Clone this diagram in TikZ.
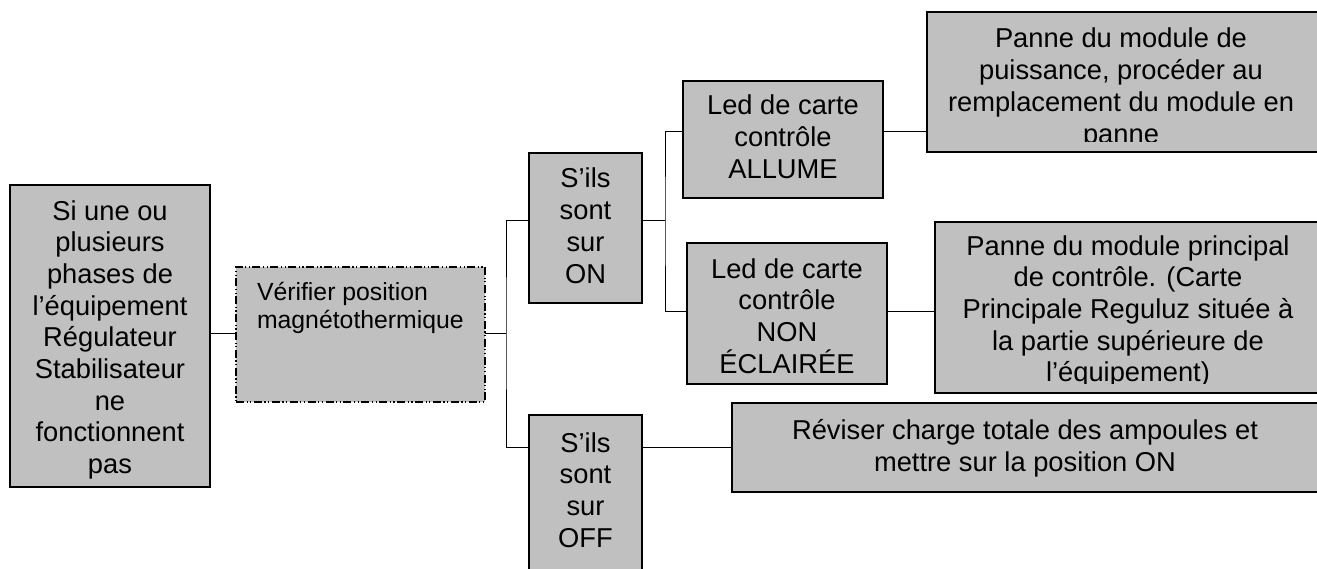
\documentclass[tikz,border=0pt]{standalone}
\usepackage{fontspec}
\setmainfont{Liberation Sans}
\definecolor{boxgray}{RGB}{192,192,192}
\newcommand\mystrutA{\rule{0pt}{20.5pt}}
\newcommand\mystrutB{\rule{0pt}{18.6pt}}
\begin{document}
\begin{tikzpicture}[x=1pt,y=-1pt,
  box/.style={draw, line width=1.5pt, fill=boxgray, inner sep=0pt, outer sep=0pt, anchor=north west},
  dbox/.style={box, line width=1.2pt, dash pattern=on 8pt off 2.5pt on 1.2pt off 2.5pt on 1.2pt off 2.5pt},
  txt/.style={inner sep=0pt, outer sep=0pt, align=center, anchor=north, font=\fontsize{27.3}{31.7}\selectfont},
  ltxt/.style={inner sep=0pt, outer sep=0pt, align=left, anchor=north west, font=\fontsize{24.8}{28}\selectfont},
  conn/.style={line width=1pt}]
\useasboundingbox (0,0) rectangle (1317,569);
\clip (0,0) rectangle (1317,569);

% boxes
\node[box, minimum width=200pt, minimum height=302pt] (A) at (10,185) {};
\node[dbox, minimum width=249pt, minimum height=135pt] (B) at (236,267) {};
\node[box, minimum width=113pt, minimum height=150pt] (ON) at (529,153) {};
\node[box, minimum width=113pt, minimum height=200pt] (OFF) at (529,415) {};
\node[box, minimum width=200pt, minimum height=117pt] (AL) at (683,81) {};
\node[box, minimum width=200pt, minimum height=141pt] (NON) at (687,243) {};
\node[box, minimum width=400pt, minimum height=140pt] (PU) at (927,12) {};
\node[box, minimum width=400pt, minimum height=171pt] (PR) at (935,222) {};
\node[box, minimum width=600pt, minimum height=89pt] (RV) at (732,403) {};

% texts
\node[txt] (tA) at (110,199.5) {\mystrutA Si une ou\\plusieurs\\phases de\\l’équipement\\Régulateur\\Stabilisateur\\ne\\fonctionnent\\pas};
\node[ltxt] (tB) at (257,281.4) {\mystrutB Vérifier position\\magnétothermique};
\node[txt] (tON) at (585.5,167.5) {\mystrutA S’ils\\sont\\sur\\ON};
\node[txt] (tOFF) at (585.5,431.5) {\mystrutA S’ils\\sont\\sur\\OFF};
\node[txt] (tAL) at (783,94.5) {\mystrutA Led de carte\\contrôle\\ALLUME};
\node[txt] (tNON) at (787,257.5) {\mystrutA Led de carte\\contrôle\\NON\\ÉCLAIRÉE};
\begin{scope}
  \clip (PU.north west) rectangle (1317,142);
  \node[txt] (tPU) at (1121,27.5) {\mystrutA Panne du module de\\puissance, procéder au\\remplacement du module en\\panne};
\end{scope}
\begin{scope}
  \clip (PR.north west) rectangle (1317,383);
  \node[txt] (tPR) at (1128,234.5) {\mystrutA Panne du module principal\\de contrôle. (Carte\\Principale Reguluz située à\\la partie supérieure de\\l’équipement)};
\end{scope}
\node[txt] (tRV) at (1025,419) {\mystrutA Réviser charge totale des ampoules et\\mettre sur la position ON};

% junction coordinates
\coordinate (j1) at (506,333);
\coordinate (j2) at (665,221);
\coordinate (yon) at (0,221);
\coordinate (yoff) at (0,447);
\coordinate (yal) at (0,132);
\coordinate (ynon) at (0,312);

% connectors
\draw[conn] (A.east |- j1) -- (B.west |- j1);
\draw[conn] (B.east |- j1) -- (j1);
\draw[conn] (ON.west |- yon) -| (j1) |- (OFF.west |- yoff);
\draw[conn] (ON.east |- yon) -- (j2);
\draw[conn] (AL.west |- yal) -| (j2) |- (NON.west |- ynon);
\draw[conn] (AL.east |- yal) -- (PU.west |- yal);
\draw[conn] (NON.east |- ynon) -- (PR.west |- ynon);
\draw[conn] (OFF.east |- yoff) -- (RV.west |- yoff);
\end{tikzpicture}
\end{document}
